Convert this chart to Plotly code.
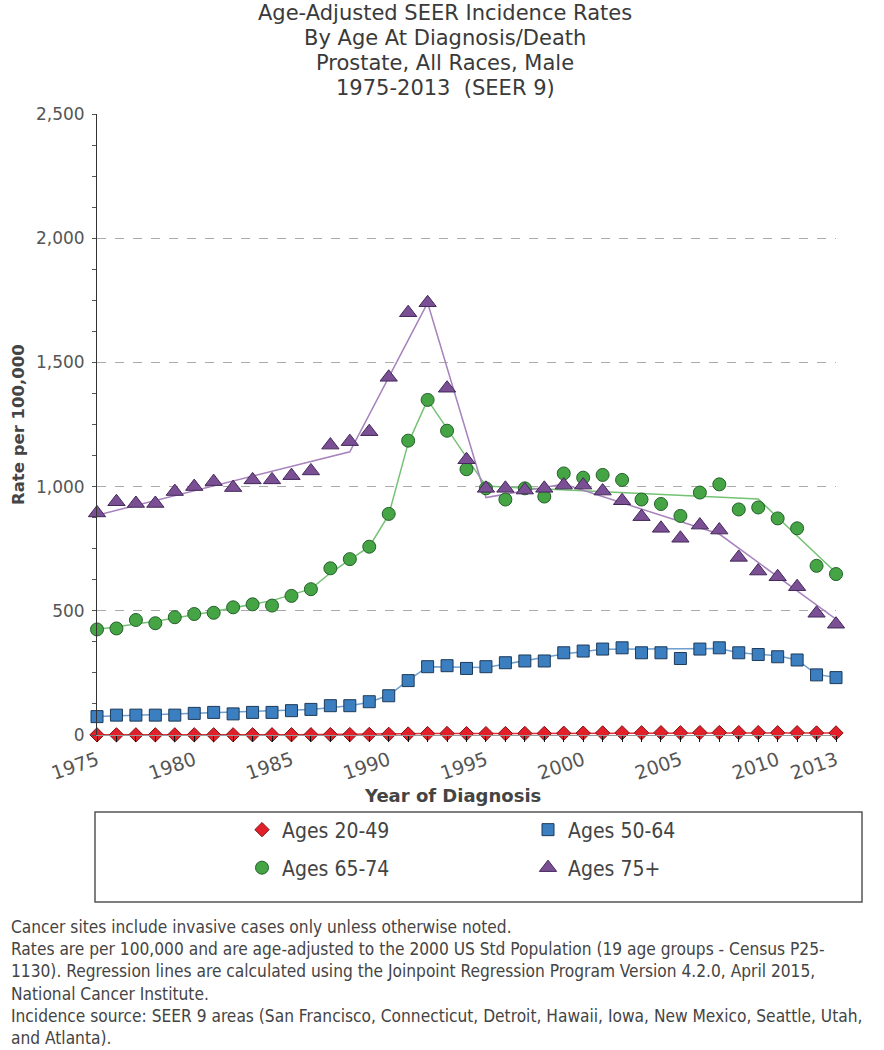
import plotly.graph_objects as go

years = list(range(1975, 2014))

ages_20_49 = [0.6, 0.6, 0.7, 0.7, 0.7, 0.8, 0.8, 0.9, 0.9, 1.0, 1.1, 1.2, 1.6, 1.7, 2.2, 2.8,
              4.1, 5.6, 6.0, 5.6, 5.6, 5.7, 6.2, 6.3, 7.1, 7.6, 8.4, 8.8, 8.8, 9.3, 8.8, 9.6,
              9.9, 9.5, 9.5, 9.1, 9.3, 8.3, 8.2]
ages_50_64 = [74, 80, 80, 80, 80, 87, 91, 85, 91, 91, 98, 103, 118, 118, 134, 158, 219, 275,
              279, 268, 275, 291, 298, 298, 331, 338, 346, 351, 331, 331, 308, 346, 351, 331,
              324, 315, 302, 242, 231]
ages_65_74 = [425, 429, 463, 450, 474, 487, 492, 514, 526, 521, 560, 587, 671, 708, 758, 890,
              1185, 1349, 1225, 1070, 993, 948, 993, 960, 1053, 1036, 1047, 1027, 948, 930, 882,
              976, 1009, 908, 916, 872, 832, 681, 648]
ages_75_plus = [894, 939, 932, 932, 980, 1000, 1020, 996, 1027, 1027, 1044, 1063, 1167, 1181,
                1221, 1440, 1700, 1740, 1396, 1108, 993, 993, 986, 993, 1006, 1006, 982, 943,
                879, 832, 792, 845, 825, 715, 660, 637, 597, 490, 446]

# Joinpoint regression lines
fit_20_49_years = [1975, 1985, 1992, 2000, 2007, 2013]
fit_20_49 = [0.6, 1.1, 5.6, 7.6, 9.6, 8.4]
fit_50_64_years = [1975, 1986, 1988, 1989, 1990, 1991, 1992, 1995, 1999, 2001, 2007, 2008, 2010, 2011, 2012, 2013]
fit_50_64 = [74, 103, 118, 132, 160, 220, 275, 272, 326, 345, 348, 331, 319, 302, 244, 231]
fit_65_74_years = [1975, 1978, 1981, 1984, 1986, 1987, 1988, 1989, 1990, 1991, 1992, 1995, 2009, 2013]
fit_65_74 = [425, 458, 497, 541, 588, 652, 706, 758, 886, 1175, 1349, 1002, 950, 653]
fit_75_years = [1975, 1988, 1992, 1995, 1999, 2007, 2013]
fit_75 = [885, 1140, 1740, 956, 1010, 809, 466]

x_tick_labels = [1975, 1980, 1985, 1990, 1995, 2000, 2005, 2010, 2013]
y_tick_labels = [0, 500, 1000, 1500, 2000, 2500]
y_grid_values = [500, 1000, 1500, 2000]

title_lines = ["Age-Adjusted SEER Incidence Rates", "By Age At Diagnosis/Death",
               "Prostate, All Races, Male", "1975-2013  (SEER 9)"]
footnote_lines = [
    "Cancer sites include invasive cases only unless otherwise noted.",
    "Rates are per 100,000 and are age-adjusted to the 2000 US Std Population (19 age groups - Census P25-",
    "1130). Regression lines are calculated using the Joinpoint Regression Program Version 4.2.0, April 2015,",
    "National Cancer Institute.",
    "Incidence source: SEER 9 areas (San Francisco, Connecticut, Detroit, Hawaii, Iowa, New Mexico, Seattle, Utah,",
    "and Atlanta).",
]

W, H = 884, 1050
# plot area in page pixels
L, R, T, B = 97, 836, 114, 735


def px_x(p):
    return (p - L) / (R - L)


def px_y(p):
    return (B - p) / (B - T)


NARROW = "DejaVu Sans Condensed, Liberation Sans Narrow, Arial Narrow, sans-serif"
TICKF = "DejaVu Sans, Verdana, sans-serif"

series = [
    ("Ages 20-49", ages_20_49, fit_20_49_years, fit_20_49, "diamond", 11, "#e3202a", "#7a1414", "#e3303a", "legend"),
    ("Ages 50-64", ages_50_64, fit_50_64_years, fit_50_64, "square", 12, "#3b7fc0", "#1d3a5a", "#6e9fcf", "legend"),
    ("Ages 65-74", ages_65_74, fit_65_74_years, fit_65_74, "circle", 13, "#45a545", "#24602a", "#74c274", "legend2"),
    ("Ages 75+", ages_75_plus, fit_75_years, fit_75, "triangle-up", 15, "#7b4f93", "#43295a", "#a783bd", "legend2"),
]

fig = go.Figure()

# overlay axis that only carries the dashed gridlines
fig.add_trace(go.Scatter(x=[], y=[], yaxis="y2", showlegend=False, hoverinfo="skip"))

for name, vals, fy, fv, sym, size, fill, edge, linec, leg in series:
    fig.add_trace(go.Scatter(x=fy, y=fv, mode="lines", line=dict(color=linec, width=1.5),
                             showlegend=False, hoverinfo="skip", cliponaxis=False))
for name, vals, fy, fv, sym, size, fill, edge, linec, leg in series:
    fig.add_trace(go.Scatter(x=years, y=vals, mode="markers", name=name, legend=leg,
                             marker=dict(symbol=sym, size=size, color=fill,
                                         line=dict(color=edge, width=1)),
                             cliponaxis=False))

fig.update_layout(
    width=W, height=H,
    margin=dict(l=L, r=W - R, t=T, b=H - B, pad=0),
    paper_bgcolor="white", plot_bgcolor="white",
    xaxis=dict(range=[1975, 2013], tickvals=x_tick_labels, ticks="outside", ticklen=6,
               tickcolor="#111", tickangle=-19, showgrid=False, zeroline=False,
               showline=True, linecolor="#999", linewidth=1,
               tickfont=dict(family=TICKF, size=19, color="#555"),
               minor=dict(dtick=1, ticks="outside", ticklen=6, tickcolor="#111")),
    yaxis=dict(range=[0, 2500], tickvals=y_tick_labels, tickformat=",",
               ticks="", showgrid=False, zeroline=False, showline=True, linecolor="#333",
               linewidth=1, ticklabelstandoff=8,
               tickfont=dict(family=TICKF, size=17, color="#555"),
               minor=dict(dtick=125, ticks="outside", ticklen=4, tickcolor="#555")),
    yaxis2=dict(range=[0, 2500], overlaying="y", tickvals=y_grid_values, showticklabels=False,
                showgrid=True, gridcolor="#aaa", griddash="dash", gridwidth=1, zeroline=False,
                showline=False, ticks=""),
    legend=dict(orientation="h", x=px_x(242), xanchor="left", y=px_y(830), yanchor="middle",
                entrywidth=241, itemwidth=30, bgcolor="rgba(0,0,0,0)",
                font=dict(family=NARROW, size=21, color="#444")),
    legend2=dict(orientation="h", x=px_x(242), xanchor="left", y=px_y(868), yanchor="middle",
                 entrywidth=241, itemwidth=30, bgcolor="rgba(0,0,0,0)",
                 font=dict(family=NARROW, size=21, color="#444")),
    showlegend=True,
)

fig.add_shape(type="rect", xref="paper", yref="paper", x0=px_x(95), x1=px_x(862),
              y0=px_y(902), y1=px_y(812), line=dict(color="#555", width=1.5))

# title, one annotation per line
title_y = [13, 38, 63, 88]
for line, yy in zip(title_lines, title_y):
    fig.add_annotation(text=line, xref="paper", yref="paper", x=px_x(445), y=px_y(yy),
                       showarrow=False, xanchor="center", yanchor="middle",
                       font=dict(family=TICKF, size=21, color="#3a3a3a"))

fig.add_annotation(text="<b>Rate per 100,000</b>", xref="paper", yref="paper", x=px_x(18),
                   y=px_y(425), textangle=-90, showarrow=False, xanchor="center", yanchor="middle",
                   font=dict(family=TICKF, size=16.5, color="#444"))
fig.add_annotation(text="<b>Year of Diagnosis</b>", xref="paper", yref="paper", x=px_x(452),
                   y=px_y(795), showarrow=False, xanchor="center", yanchor="middle",
                   font=dict(family=TICKF, size=18, color="#444"))

foot_y0, foot_dy = 927, 22.2
for i, line in enumerate(footnote_lines):
    fig.add_annotation(text=line, xref="paper", yref="paper", x=px_x(9),
                       y=px_y(foot_y0 + i * foot_dy), showarrow=False, xanchor="left",
                       yanchor="middle", align="left",
                       font=dict(family=NARROW, size=17.2, color="#444"))

# remove the browser's default 8px body margin so the figure sits at the page origin
fig.write_html("out.html", config={"displayModeBar": False},
               post_script="document.body.style.margin='0';")
